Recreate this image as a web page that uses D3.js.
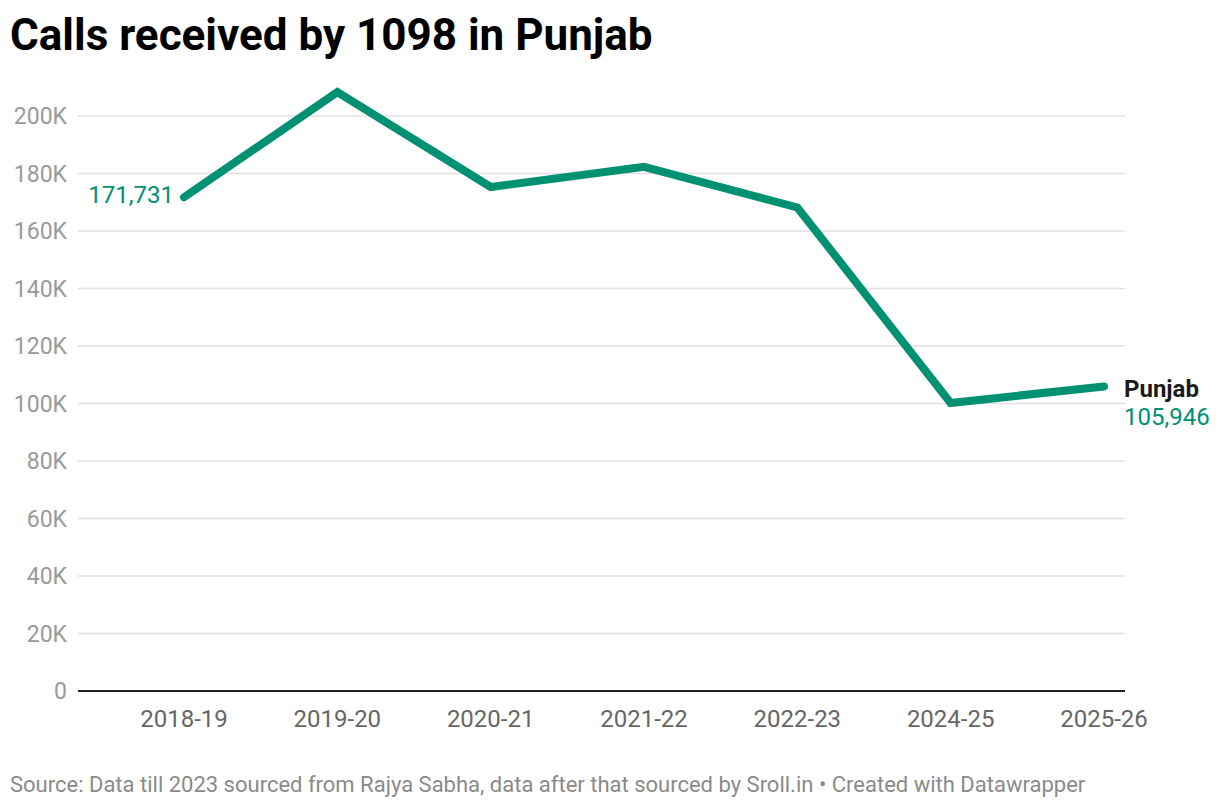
<!DOCTYPE html>
<html><head><meta charset="utf-8">
<script src="https://cdn.jsdelivr.net/npm/d3@7"></script>
<style>
html,body{margin:0;padding:0;background:#fff;}
svg{display:block;font-family:Roboto,sans-serif;}
</style></head>
<body>
<svg id="c" width="1220" height="808"></svg>
<script>
const categories = ["2018-19","2019-20","2020-21","2021-22","2022-23","2024-25","2025-26"];
const values = [171731, 208300, 175300, 182300, 168200, 100200, 105946];
const yTicks = [0,20000,40000,60000,80000,100000,120000,140000,160000,180000,200000];
const seriesName = "Punjab";
const title = "Calls received by 1098 in Punjab";
const source = "Source: Data till 2023 sourced from Rajya Sabha, data after that sourced by Sroll.in • Created with Datawrapper";

const svg = d3.select("#c");
const color = "#009072";
const x = d3.scalePoint().domain(categories).range([184, 1104]);
const y = d3.scaleLinear().domain([0, 200000]).range([691, 116]);

svg.append("text").attr("x", 10).attr("y", 50).attr("font-size", 44).attr("font-weight", 700)
  .attr("fill", "#000").text(title);

// gridlines
const g = svg.append("g");
g.selectAll("line.grid").data(yTicks.filter(d => d > 0)).join("line")
  .attr("x1", 78).attr("x2", 1125).attr("y1", d => y(d)).attr("y2", d => y(d))
  .attr("stroke", "#e0e0e0").attr("stroke-width", 1.5);
g.selectAll("text.yl").data(yTicks).join("text")
  .attr("x", 67).attr("y", d => y(d)).attr("dy", "0.36em").attr("text-anchor", "end")
  .attr("font-size", 23).attr("fill", "#9a9a9a")
  .text(d => d === 0 ? "0" : (d / 1000) + "K");
g.append("line").attr("x1", 78).attr("x2", 1125).attr("y1", y(0)).attr("y2", y(0))
  .attr("stroke", "#222").attr("stroke-width", 2);

// x labels
g.selectAll("text.xl").data(categories).join("text")
  .attr("x", d => x(d)).attr("y", 727).attr("text-anchor", "middle")
  .attr("font-size", 24).attr("fill", "#666").text(d => d);

// line
const data = categories.map((c, i) => ({c, v: values[i]}));
svg.append("path").datum(data)
  .attr("d", d3.line().x(d => x(d.c)).y(d => y(d.v)))
  .attr("fill", "none").attr("stroke", color).attr("stroke-width", 8)
  .attr("stroke-linejoin", "miter").attr("stroke-linecap", "round");

const fmt = d3.format(",");
const first = data[0], last = data[data.length - 1];
svg.append("text").attr("x", x(first.c) - 10).attr("y", y(first.v) + 6)
  .attr("text-anchor", "end").attr("font-size", 24).attr("fill", color).text(fmt(first.v));
svg.append("text").attr("x", x(last.c) + 20).attr("y", y(last.v) + 11)
  .attr("font-size", 24).attr("font-weight", 700).attr("fill", "#1a1a1a").text(seriesName);
svg.append("text").attr("x", x(last.c) + 20).attr("y", y(last.v) + 39)
  .attr("font-size", 24).attr("fill", color).text(fmt(last.v));

svg.append("text").attr("x", 10).attr("y", 792).attr("font-size", 22).attr("fill", "#8a8a8a").text(source);
</script>
</body></html>
